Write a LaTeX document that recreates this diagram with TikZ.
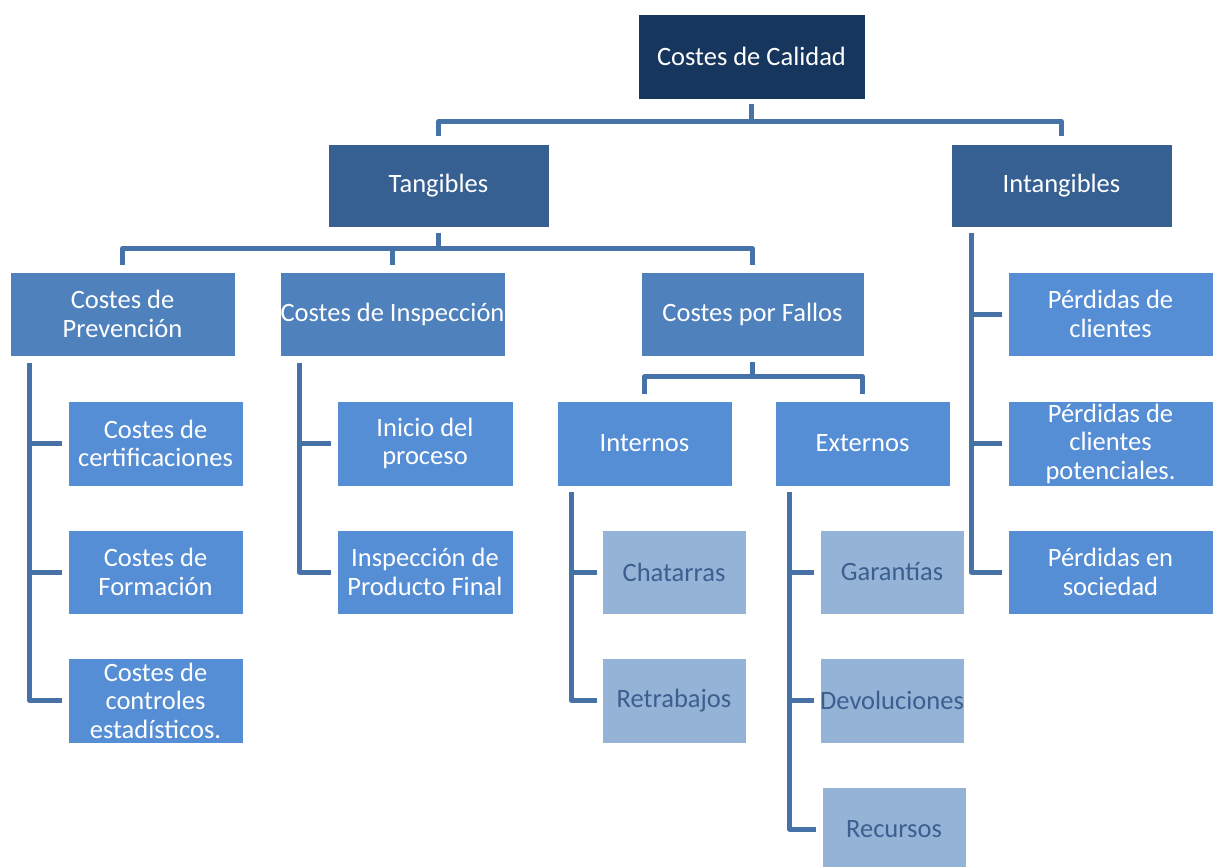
\documentclass[tikz,border=0pt]{standalone}
\usepackage{fontspec}
\setmainfont{Carlito}
\definecolor{cA}{HTML}{17365D}
\definecolor{cB}{HTML}{366092}
\definecolor{cC}{HTML}{4F81BD}
\definecolor{cD}{HTML}{558ED5}
\definecolor{cE}{HTML}{95B3D7}
\definecolor{cT}{HTML}{3B5F8F}
\definecolor{cL}{HTML}{4672A8}
\tikzset{
  box/.style={rectangle, draw=white, line width=0.8pt, inner sep=0pt, align=center,
    font=\fontsize{26.5}{28.5}\selectfont, text=white},
  lvA/.style={box, fill=cA},
  lvB/.style={box, fill=cB},
  lvC/.style={box, fill=cC},
  lvD/.style={box, fill=cD},
  lvE/.style={box, fill=cE, text=cT},
  conn/.style={draw=cL, line width=5pt, line join=round}
}
\begin{document}
\begin{tikzpicture}[x=1pt,y=-1pt]
\useasboundingbox (0,0) rectangle (1213,867);
% level 1
\node[lvA, minimum width=227pt, minimum height=85pt] (cal) at (751.5,56.5) {Costes de Calidad};
% level 2
\node[lvB, minimum width=221pt, minimum height=83pt] (tan) at (438.5,185.5) {Tangibles};
\node[lvB, minimum width=221pt, minimum height=83pt] (int) at (1061.5,185.5) {Intangibles};
% level 3
\node[lvC, minimum width=225pt, minimum height=84pt] (prev) at (122.5,314) {Costes de\\Prevención};
\node[lvC, minimum width=225pt, minimum height=84pt] (insp) at (392.5,314) {Costes de Inspección};
\node[lvC, minimum width=223pt, minimum height=84pt] (fall) at (752.5,314) {Costes por Fallos};
% prevention children
\node[lvD, minimum width=175pt, minimum height=85pt] (pc1) at (155.5,443.5) {Costes de\\certificaciones};
\node[lvD, minimum width=175pt, minimum height=84pt] (pc2) at (155.5,572) {Costes de\\Formación};
\node[lvD, minimum width=175pt, minimum height=85pt] (pc3) at (155.5,700.5) {Costes de\\controles\\estadísticos.};
% inspection children
\node[lvD, minimum width=176pt, minimum height=85pt] (ic1) at (425,443.5) {Inicio del\\proceso};
\node[lvD, minimum width=176pt, minimum height=84pt] (ic2) at (425,572) {Inspección de\\Producto Final};
% fallos children
\node[lvD, minimum width=175pt, minimum height=85pt] (inn) at (644.5,443.5) {Internos};
\node[lvD, minimum width=175pt, minimum height=85pt] (ext) at (862.5,443.5) {Externos};
\node[lvE, minimum width=144pt, minimum height=84pt] (cha) at (674,572) {Chatarras};
\node[lvE, minimum width=144pt, minimum height=85pt] (ret) at (674,700.5) {Retrabajos};
\node[lvE, minimum width=144pt, minimum height=84pt] (gar) at (892,572) {Garantías};
\node[lvE, minimum width=144pt, minimum height=85pt] (dev) at (892,700.5) {Devoluciones};
\node[lvE, minimum width=144pt, minimum height=84pt] (rec) at (894,829) {Recursos};
% intangibles children
\node[lvD, minimum width=205pt, minimum height=84pt] (pd1) at (1110.5,314) {Pérdidas de\\clientes};
\node[lvD, minimum width=205pt, minimum height=85pt] (pd2) at (1110.5,443.5) {Pérdidas de\\clientes\\potenciales.};
\node[lvD, minimum width=205pt, minimum height=84pt] (pd3) at (1110.5,572) {Pérdidas en\\sociedad};

% connectors level 1 -> 2
\draw[conn] ([yshift=-5pt]cal.south) -- ([yshift=-23pt]cal.south);
\draw[conn] ([yshift=8pt]tan.north) -- ([yshift=22pt]tan.north) -| ([yshift=8pt]int.north);
% level 2 -> 3
\draw[conn] ([yshift=-6pt]tan.south) -- ([yshift=-22pt]tan.south);
\draw[conn] ([yshift=7pt]prev.north) -- ([yshift=23pt]prev.north) -| ([yshift=7pt]fall.north);
\draw[conn] ([yshift=7pt]insp.north) -- ([yshift=23pt]insp.north);
% fallos -> internos/externos
\draw[conn] ([yshift=-6pt]fall.south) -- ([yshift=-21pt]fall.south);
\draw[conn] ([yshift=7pt]inn.north) -- ([yshift=24pt]inn.north) -| ([yshift=7pt]ext.north);
% prevention tree
\coordinate (pv) at ([xshift=20pt,yshift=-7pt]prev.south west);
\draw[conn] (pv) |- ([xshift=-6pt]pc3.west);
\draw[conn] (pv |- pc1.west) -- ([xshift=-6pt]pc1.west);
\draw[conn] (pv |- pc2.west) -- ([xshift=-6pt]pc2.west);
% inspection tree
\coordinate (iv) at ([xshift=20pt,yshift=-7pt]insp.south west);
\draw[conn] (iv) |- ([xshift=-6pt]ic2.west);
\draw[conn] (iv |- ic1.west) -- ([xshift=-6pt]ic1.west);
% internos tree
\coordinate (nv) at ([xshift=15pt,yshift=-6pt]inn.south west);
\draw[conn] (nv) |- ([xshift=-5pt]ret.west);
\draw[conn] (nv |- cha.west) -- ([xshift=-5pt]cha.west);
% externos tree
\coordinate (ev) at ([xshift=15pt,yshift=-6pt]ext.south west);
\draw[conn] (ev) |- ([xshift=-6pt]rec.west);
\draw[conn] (ev |- gar.west) -- ([xshift=-6pt]gar.west);
\draw[conn] (ev |- dev.west) -- ([xshift=-6pt]dev.west);
% intangibles tree
\coordinate (tv) at ([xshift=21pt,yshift=-6pt]int.south west);
\draw[conn] (tv) |- ([xshift=-6pt]pd3.west);
\draw[conn] (tv |- pd1.west) -- ([xshift=-6pt]pd1.west);
\draw[conn] (tv |- pd2.west) -- ([xshift=-6pt]pd2.west);
\end{tikzpicture}
\end{document}
